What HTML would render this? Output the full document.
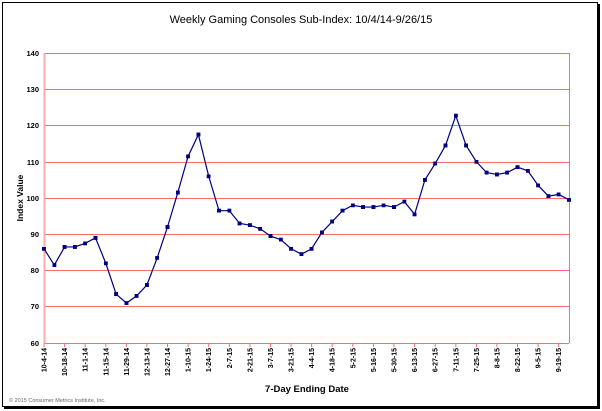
<!DOCTYPE html>
<html><head><style>html,body{margin:0;padding:0;background:#fff}svg{display:block}</style></head><body>
<svg width="602" height="411" xmlns="http://www.w3.org/2000/svg" font-family="Liberation Sans, Arial, sans-serif">
<defs><marker id="sq" viewBox="0 0 4 4" refX="2" refY="2" markerWidth="4" markerHeight="4" markerUnits="userSpaceOnUse"><rect x="0" y="0" width="4" height="4" fill="#000080"/></marker></defs>
<rect x="0" y="0" width="602" height="411" fill="#fff"/>
<rect x="4" y="4" width="596" height="405" fill="#000"/>
<rect x="2.5" y="2.5" width="595" height="404" fill="#fff" stroke="#000" stroke-width="1"/>
<text x="301" y="23" font-size="11" text-anchor="middle">Weekly Gaming Consoles Sub-Index: 10/4/14-9/26/15</text>
<g stroke="#ff6b6b" stroke-width="1">
<line x1="44" y1="53.5" x2="569" y2="53.5"/>
<line x1="44" y1="89.5" x2="569" y2="89.5"/>
<line x1="44" y1="125.5" x2="569" y2="125.5"/>
<line x1="44" y1="162.5" x2="569" y2="162.5"/>
<line x1="44" y1="198.5" x2="569" y2="198.5"/>
<line x1="44" y1="234.5" x2="569" y2="234.5"/>
<line x1="44" y1="270.5" x2="569" y2="270.5"/>
<line x1="44" y1="306.5" x2="569" y2="306.5"/>
<line x1="44" y1="343.5" x2="569" y2="343.5"/>
<line x1="569.5" y1="53" x2="569.5" y2="343"/>
</g>
<line x1="44.5" y1="53" x2="44.5" y2="344" stroke="#ffaaaa" stroke-width="2"/>
<g stroke="#ff6b6b" stroke-width="1">
<line x1="44" y1="343" x2="44" y2="347"/><line x1="64.6" y1="343" x2="64.6" y2="347"/><line x1="85.2" y1="343" x2="85.2" y2="347"/><line x1="105.8" y1="343" x2="105.8" y2="347"/><line x1="126.4" y1="343" x2="126.4" y2="347"/><line x1="146.9" y1="343" x2="146.9" y2="347"/><line x1="167.5" y1="343" x2="167.5" y2="347"/><line x1="188.1" y1="343" x2="188.1" y2="347"/><line x1="208.7" y1="343" x2="208.7" y2="347"/><line x1="229.3" y1="343" x2="229.3" y2="347"/><line x1="249.9" y1="343" x2="249.9" y2="347"/><line x1="270.5" y1="343" x2="270.5" y2="347"/><line x1="291.1" y1="343" x2="291.1" y2="347"/><line x1="311.6" y1="343" x2="311.6" y2="347"/><line x1="332.2" y1="343" x2="332.2" y2="347"/><line x1="352.8" y1="343" x2="352.8" y2="347"/><line x1="373.4" y1="343" x2="373.4" y2="347"/><line x1="394" y1="343" x2="394" y2="347"/><line x1="414.6" y1="343" x2="414.6" y2="347"/><line x1="435.2" y1="343" x2="435.2" y2="347"/><line x1="455.8" y1="343" x2="455.8" y2="347"/><line x1="476.4" y1="343" x2="476.4" y2="347"/><line x1="496.9" y1="343" x2="496.9" y2="347"/><line x1="517.5" y1="343" x2="517.5" y2="347"/><line x1="538.1" y1="343" x2="538.1" y2="347"/><line x1="558.7" y1="343" x2="558.7" y2="347"/>
</g>
<g font-size="7.5" font-weight="bold" text-anchor="end">
<text x="39" y="56">140</text><text x="39" y="92">130</text><text x="39" y="128">120</text>
<text x="39" y="165">110</text><text x="39" y="201">100</text><text x="39" y="237">90</text>
<text x="39" y="273">80</text><text x="39" y="309">70</text><text x="39" y="346">60</text>
</g>
<text transform="translate(23,198) rotate(-90)" font-size="8.5" font-weight="bold" text-anchor="middle">Index Value</text>
<text x="307" y="392" font-size="9.5" font-weight="bold" text-anchor="middle">7-Day Ending Date</text>
<text x="9" y="402" font-size="5.5" fill="#666">© 2015 Consumer Metrics Institute, Inc.</text>
<polyline fill="none" stroke="#000080" stroke-width="1.2" marker-start="url(#sq)" marker-mid="url(#sq)" marker-end="url(#sq)" points="44,248.75 54.3,265.06 64.6,246.94 74.9,246.94 85.2,243.31 95.5,237.88 105.8,263.25 116.1,294.06 126.4,303.13 136.6,295.88 146.9,285 157.2,257.81 167.5,227 177.8,192.56 188.1,156.31 198.4,134.56 208.7,176.25 219,210.69 229.3,210.69 239.6,223.38 249.9,225.19 260.2,228.81 270.5,236.06 280.8,239.69 291.1,248.75 301.4,254.19 311.6,248.75 321.9,232.44 332.2,221.56 342.5,210.69 352.8,205.25 363.1,207.06 373.4,207.06 383.7,205.25 394,207.06 404.3,201.63 414.6,214.31 424.9,179.88 435.2,163.56 445.5,145.44 455.8,115.71 466.1,145.44 476.4,161.75 486.6,172.63 496.9,174.44 507.2,172.63 517.5,167.19 527.8,170.81 538.1,185.31 548.4,196.19 558.7,194.38 569,199.81"/>
<g font-size="7" font-weight="bold" text-anchor="end">
<text transform="translate(46.5,348) rotate(-90)">10-4-14</text>
<text transform="translate(67.1,348) rotate(-90)">10-18-14</text>
<text transform="translate(87.7,348) rotate(-90)">11-1-14</text>
<text transform="translate(108.3,348) rotate(-90)">11-15-14</text>
<text transform="translate(128.9,348) rotate(-90)">11-29-14</text>
<text transform="translate(149.4,348) rotate(-90)">12-13-14</text>
<text transform="translate(170,348) rotate(-90)">12-27-14</text>
<text transform="translate(190.6,348) rotate(-90)">1-10-15</text>
<text transform="translate(211.2,348) rotate(-90)">1-24-15</text>
<text transform="translate(231.8,348) rotate(-90)">2-7-15</text>
<text transform="translate(252.4,348) rotate(-90)">2-21-15</text>
<text transform="translate(273,348) rotate(-90)">3-7-15</text>
<text transform="translate(293.6,348) rotate(-90)">3-21-15</text>
<text transform="translate(314.1,348) rotate(-90)">4-4-15</text>
<text transform="translate(334.7,348) rotate(-90)">4-18-15</text>
<text transform="translate(355.3,348) rotate(-90)">5-2-15</text>
<text transform="translate(375.9,348) rotate(-90)">5-16-15</text>
<text transform="translate(396.5,348) rotate(-90)">5-30-15</text>
<text transform="translate(417.1,348) rotate(-90)">6-13-15</text>
<text transform="translate(437.7,348) rotate(-90)">6-27-15</text>
<text transform="translate(458.3,348) rotate(-90)">7-11-15</text>
<text transform="translate(478.9,348) rotate(-90)">7-25-15</text>
<text transform="translate(499.4,348) rotate(-90)">8-8-15</text>
<text transform="translate(520,348) rotate(-90)">8-22-15</text>
<text transform="translate(540.6,348) rotate(-90)">9-5-15</text>
<text transform="translate(561.2,348) rotate(-90)">9-19-15</text>
</g>
</svg>
</body></html>
